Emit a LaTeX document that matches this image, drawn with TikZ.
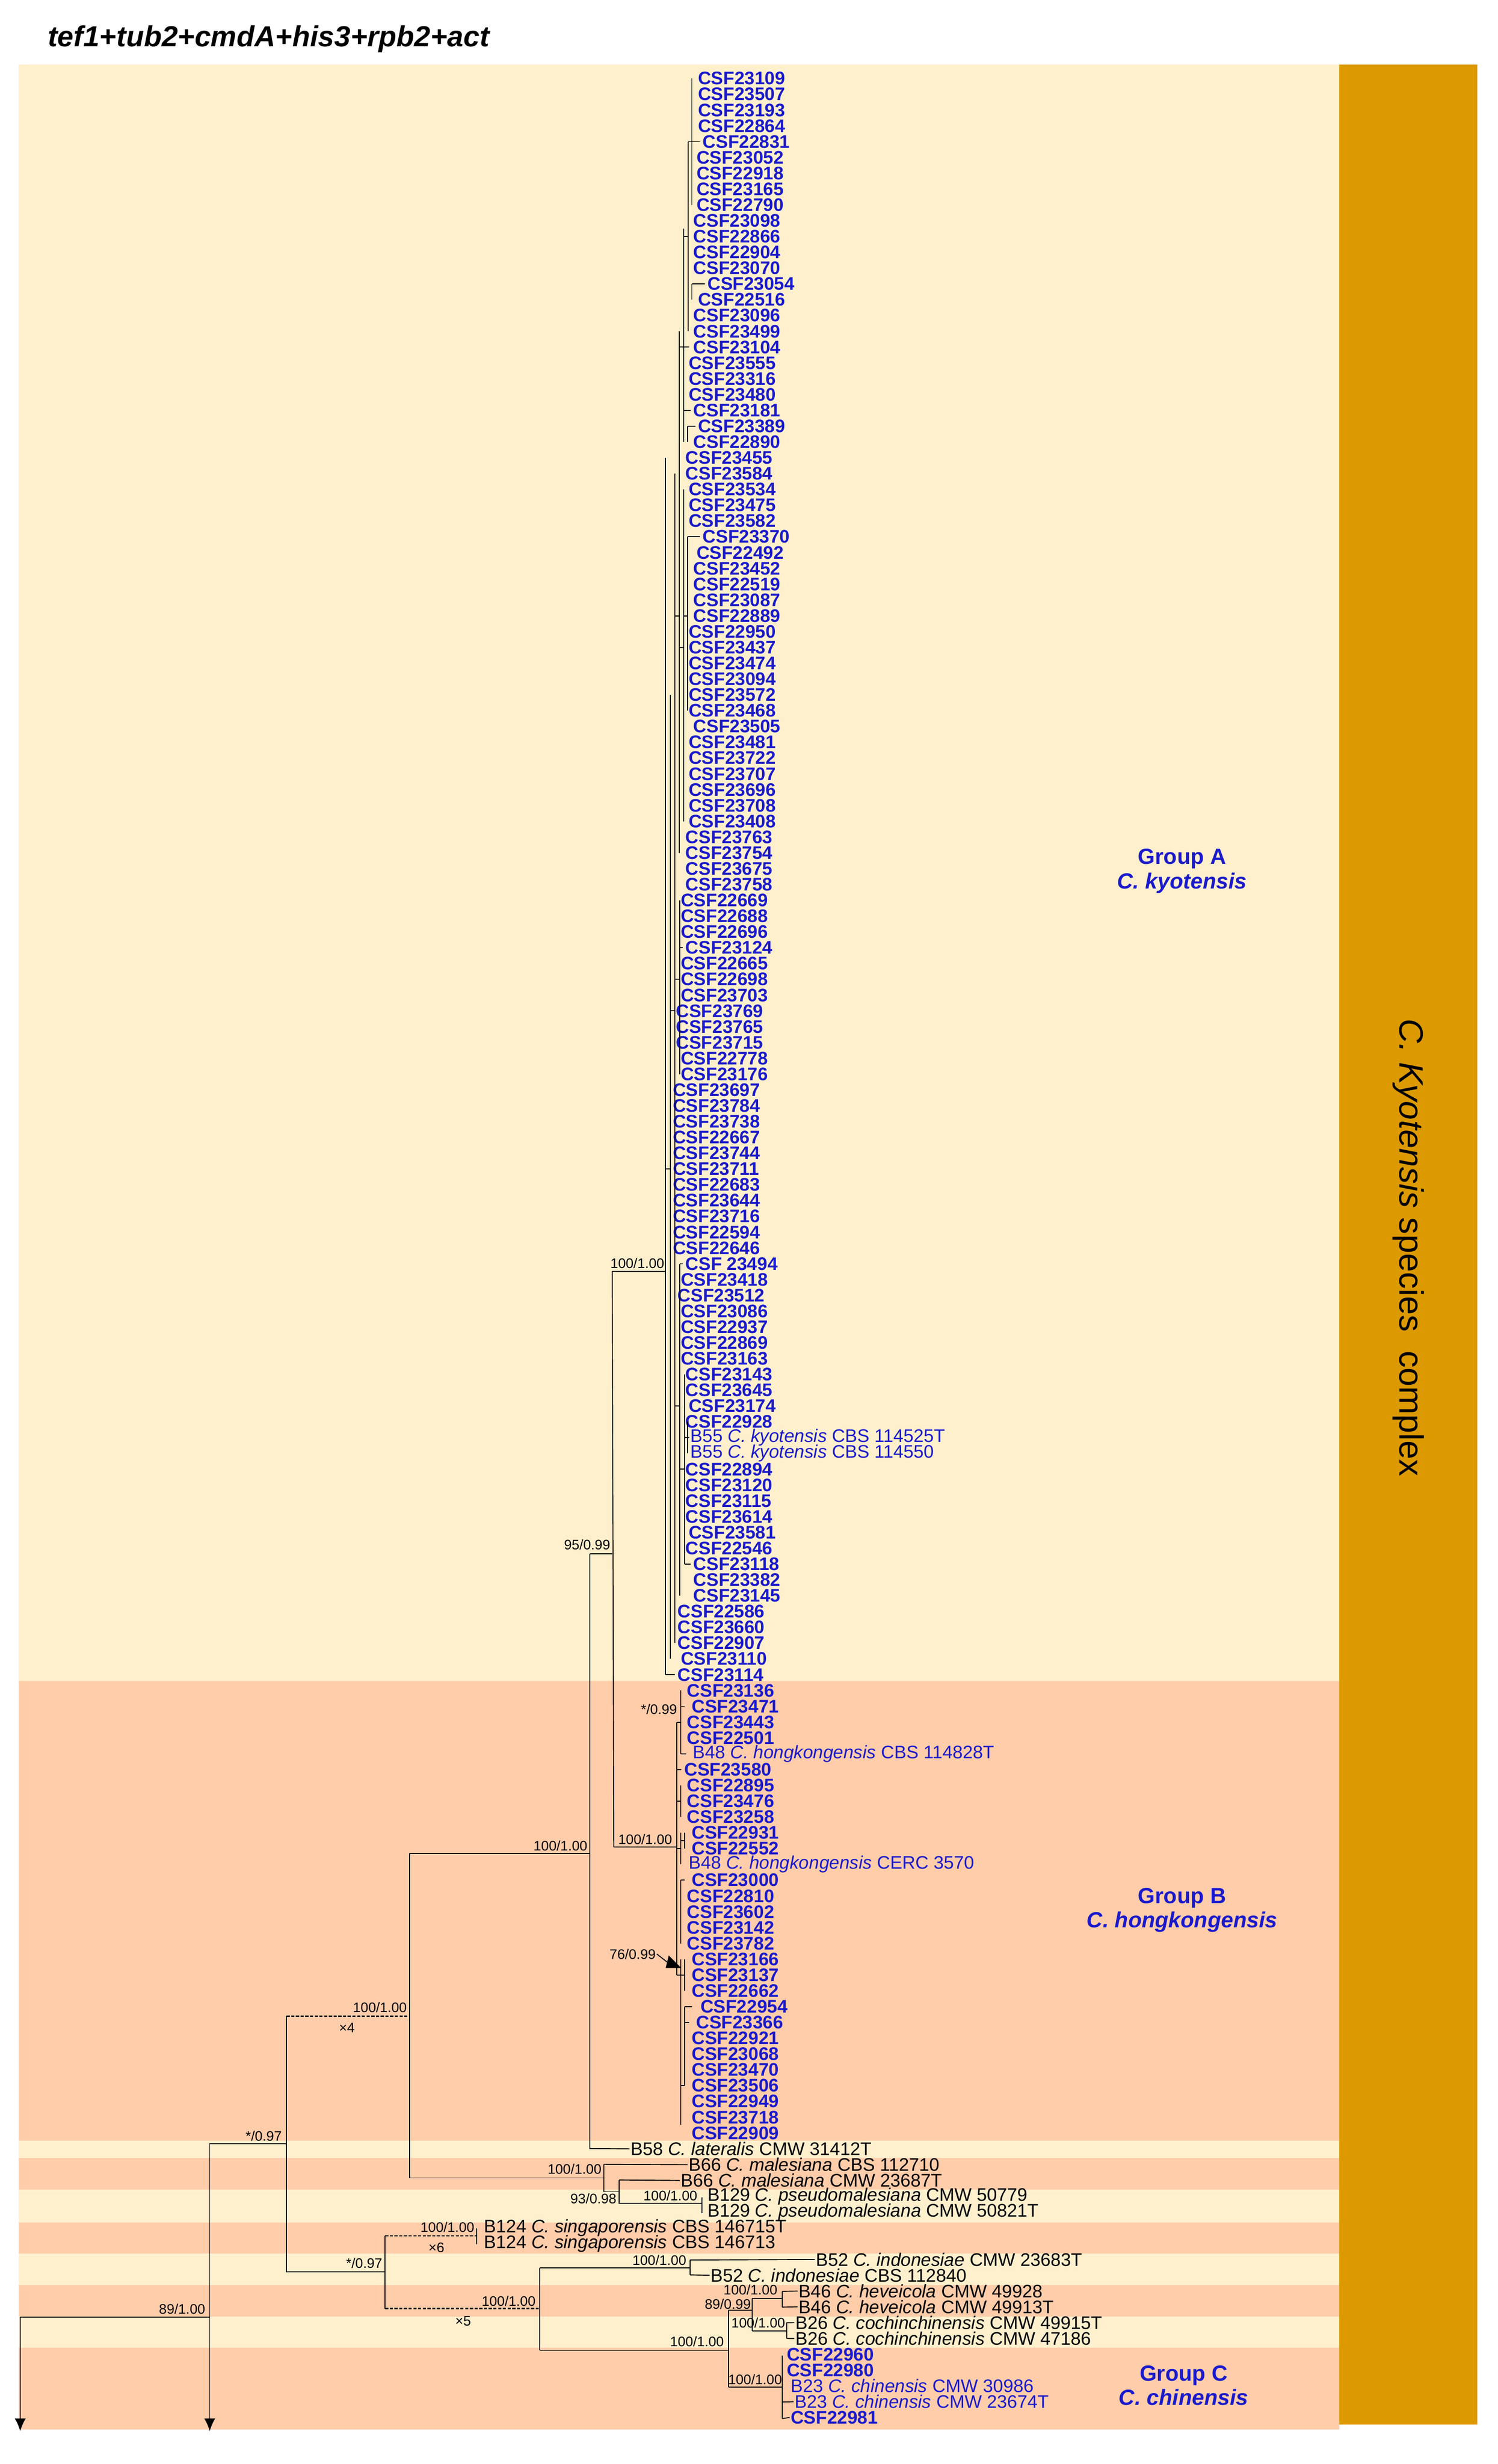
\documentclass[tikz,border=0pt]{standalone}
\usepackage{fontspec}
\setmainfont{Liberation Sans}
\usetikzlibrary{arrows.meta}
\definecolor{bgY}{HTML}{FFF0CD}
\definecolor{bgS}{HTML}{FFCDAA}
\definecolor{bar}{HTML}{DD9A00}
\definecolor{lb}{HTML}{1A1ACC}
\begin{document}
\begin{tikzpicture}[x=1pt,y=-1pt,
  declare function={ry(\n)=50+(\n-1)*10.07;},
  br/.style={line width=0.6pt,black},
  dbr/.style={line width=0.9pt,black,dash pattern=on 2pt off 1pt},
  csf/.style={anchor=west,inner sep=0.5pt,text=lb,font=\fontsize{11.6}{11}\selectfont\bfseries},
  reg/.style={anchor=west,inner sep=0.5pt,font=\fontsize{11.6}{11}\selectfont},
  sup/.style={inner sep=0.5pt,font=\fontsize{8.8}{9}\selectfont},
  grp/.style={text=lb,font=\fontsize{14}{15.5}\selectfont\bfseries,align=center}]
\useasboundingbox (0,0) rectangle (954,1570);
% backgrounds
\fill[bgY] (12,41) rectangle (853,1071);
\fill[bgS] (12,1071) rectangle (853,1364);
\fill[bgY] (12,1364) rectangle (853,1375);
\fill[bgS] (12,1375) rectangle (853,1395);
\fill[bgY] (12,1395) rectangle (853,1416);
\fill[bgS] (12,1416) rectangle (853,1436);
\fill[bgY] (12,1436) rectangle (853,1456);
\fill[bgS] (12,1456) rectangle (853,1476);
\fill[bgY] (12,1476) rectangle (853,1496);
\fill[bgS] (12,1496) rectangle (853,1548);
\fill[bar] (853,41) rectangle (941,1545);
\node[anchor=west,font=\fontsize{18.5}{20}\selectfont\bfseries\itshape] (title) at (27,25) {tef1+tub2+cmdA+his3+rpb2+act};
\node[rotate=-90,font=\fontsize{21.5}{24}\selectfont] (cx) at (897,795) {\textit{C. Kyotensis} species\ \ complex};
\node[grp] (gA) at (753,555) {Group A\\\textit{C. kyotensis}};
\node[grp] (gB) at (753,1217) {Group B\\\textit{C. hongkongensis}};
\node[grp] (gC) at (754,1520) {Group C\\\textit{C. chinensis}};
% leaves group A and B
\foreach \i/\x/\t in {1/444/CSF23109,2/444/CSF23507,3/444/CSF23193,4/444/CSF22864,5/447/CSF22831,6/443/CSF23052,7/443/CSF22918,8/443/CSF23165,9/443/CSF22790,10/441/CSF23098,
11/441/CSF22866,12/441/CSF22904,13/441/CSF23070,14/450/CSF23054,15/444/CSF22516,16/441/CSF23096,17/441/CSF23499,18/441/CSF23104,19/438/CSF23555,20/438/CSF23316,
21/438/CSF23480,22/441/CSF23181,23/444/CSF23389,24/441/CSF22890,25/436/CSF23455,26/436/CSF23584,27/438/CSF23534,28/438/CSF23475,29/438/CSF23582,30/447/CSF23370,
31/443/CSF22492,32/441/CSF23452,33/441/CSF22519,34/441/CSF23087,35/441/CSF22889,36/438/CSF22950,37/438/CSF23437,38/438/CSF23474,39/438/CSF23094,40/438/CSF23572,
41/438/CSF23468,42/441/CSF23505,43/438/CSF23481,44/438/CSF23722,45/438/CSF23707,46/438/CSF23696,47/438/CSF23708,48/438/CSF23408,49/436/CSF23763,50/436/CSF23754,
51/436/CSF23675,52/436/CSF23758,53/433/CSF22669,54/433/CSF22688,55/433/CSF22696,56/436/CSF23124,57/433/CSF22665,58/433/CSF22698,59/433/CSF23703,60/430/CSF23769,
61/430/CSF23765,62/430/CSF23715,63/433/CSF22778,64/433/CSF23176,65/428/CSF23697,66/428/CSF23784,67/428/CSF23738,68/428/CSF22667,69/428/CSF23744,70/428/CSF23711,
71/428/CSF22683,72/428/CSF23644,73/428/CSF23716,74/428/CSF22594,75/428/CSF22646,76/436/CSF 23494,77/433/CSF23418,78/431/CSF23512,79/433/CSF23086,80/433/CSF22937,
81/433/CSF22869,82/433/CSF23163,83/436/CSF23143,84/436/CSF23645,85/438/CSF23174,86/436/CSF22928,89/436/CSF22894,90/436/CSF23120,
91/436/CSF23115,92/436/CSF23614,93/438/CSF23581,94/436/CSF22546,95/441/CSF23118,96/441/CSF23382,97/441/CSF23145,98/431/CSF22586,99/431/CSF23660,100/431/CSF22907,
101/433/CSF23110,102/431/CSF23114,103/437/CSF23136,104/440/CSF23471,105/437/CSF23443,106/437/CSF22501,108/435.3/CSF23580,109/437/CSF22895,110/437/CSF23476,
111/437/CSF23258,112/440/CSF22931,113/440/CSF22552,115/440/CSF23000,116/437/CSF22810,117/437/CSF23602,118/437/CSF23142,119/437/CSF23782,120/440/CSF23166,
121/440/CSF23137,122/440/CSF22662,123/445.5/CSF22954,124/442.8/CSF23366,125/440/CSF22921,126/440/CSF23068,127/440/CSF23470,128/440/CSF23506,129/440/CSF22949,130/440/CSF23718,
131/440/CSF22909,145/500.5/CSF22960,146/500.5/CSF22980,149/503/CSF22981}
  {\node[csf] (L\i) at (\x,{ry(\i)}) {\t};}
\node[reg,text=lb] (L87) at (439,{ry(87)}) {B55 \textit{C. kyotensis} CBS 114525T};
\node[reg,text=lb] (L88) at (439,{ry(88)}) {B55 \textit{C. kyotensis} CBS 114550};
\node[reg,text=lb] (L107) at (440.6,{ry(107)}) {B48 \textit{C. hongkongensis} CBS 114828T};
\node[reg,text=lb] (L114) at (438,{ry(114)}) {B48 \textit{C. hongkongensis} CERC 3570};
\node[reg] (L132) at (401,{ry(132)}) {B58 \textit{C. lateralis} CMW 31412T};
\node[reg] (L133) at (438,{ry(133)}) {B66 \textit{C. malesiana} CBS 112710};
\node[reg] (L134) at (433,{ry(134)}) {B66 \textit{C. malesiana} CMW 23687T};
\node[reg] (L135) at (450,{ry(135)}) {B129 \textit{C. pseudomalesiana} CMW 50779};
\node[reg] (L136) at (450,{ry(136)}) {B129 \textit{C. pseudomalesiana} CMW 50821T};
\node[reg] (L137) at (307.5,{ry(137)}) {B124 \textit{C. singaporensis} CBS 146715T};
\node[reg] (L138) at (307.5,{ry(138)}) {B124 \textit{C. singaporensis} CBS 146713};
\node[reg] (L139) at (519,{ry(139)}) {B52 \textit{C. indonesiae} CMW 23683T};
\node[reg] (L140) at (452,{ry(140)}) {B52 \textit{C. indonesiae} CBS 112840};
\node[reg] (L141) at (508,{ry(141)}) {B46 \textit{C. heveicola} CMW 49928};
\node[reg] (L142) at (508,{ry(142)}) {B46 \textit{C. heveicola} CMW 49913T};
\node[reg] (L143) at (506,{ry(143)}) {B26 \textit{C. cochinchinensis} CMW 49915T};
\node[reg] (L144) at (506,{ry(144)}) {B26 \textit{C. cochinchinensis} CMW 47186};
\node[reg,text=lb] (L147) at (503,{ry(147)}) {B23 \textit{C. chinensis} CMW 30986};
\node[reg,text=lb] (L148) at (505.5,{ry(148)}) {B23 \textit{C. chinensis} CMW 23674T};
% group A verticals (x,from,to)
\foreach \x/\a/\b in {440.7/1/9,438.4/5/17,440.7/14/15,435.5/10.5/24,438/23/24,432.8/17/50,435.5/27/48,438/30/41,430/26/100,433/53/64,427/40/101,424/25/102,433/76/97,436/83/95,438/86/88}
  {\draw[br] (\x,{ry(\a)}) -- (\x,{ry(\b)});}
% horizontals (xfrom,row,xto)
\foreach \x/\r/\y in {440.7/5/446,440.7/14/449,435.5/18/439,435.5/22/440,438/23/443,438/30/446,433/56/435,433/76/435,438/87/439,424/102/430,436/95/440,
438.4/5/440.7,435.5/11/438.4,432.8/18/435.5,430/35/432.8,432.8/37/435.5,435.5/35/438,427/60/430,430/58/433,424/70/427,430/85/433,433/89/436,436/87/438}
  {\draw[br] (\x,{ry(\r)}) -- (\y,{ry(\r)});}
% group B
\foreach \x/\a/\b in {431.1/105/121,433.5/103/107,433.5/109/111,433.5/112/114,436/112/113,433.5/115/119,433.5/120/130.5,436/120/122,436/123/128}
  {\draw[br] (\x,{ry(\a)}) -- (\x,{ry(\b)});}
\foreach \x/\r/\y in {431.1/105/433.5,433.5/104/436,433.5/107/437,431.1/108/434,431.1/110/433.5,431.1/113/433.5,433.5/112.5/436,433.5/115/436,431.1/121/433.5,433.5/121/436,433.5/128/436,436/123/441,436/124/439}
  {\draw[br] (\x,{ry(\r)}) -- (\y,{ry(\r)});}
\coordinate (nA) at (390,810);
\coordinate (nB) at (391,1177);
\draw[br] (nA) -- (424,810);
\draw[br] (nB) -- (431.1,1177);
\draw[br] (nA) -- (nB);
\node[sup,anchor=south] (sA) at (406,809) {100/1.00};
\node[sup,anchor=south] (sB) at (411,1176) {100/1.00};
\node[sup,anchor=east] (s099) at (432,1089) {*/0.99};
\node[sup] (s76) at (403,1245) {76/0.99};
\draw[br] (s76.east) -- (426,1251);
\fill (426,1246) -- (434,1254) -- (424,1254) -- cycle;
% outgroup structure
\coordinate (n95) at (375.7,990);
\draw[br] (n95) -- (390,990);
\node[sup,anchor=south] (s95) at (374,988) {95/0.99};
\draw[br] (n95) -- (375.7,1369) -- (L132.west);
\coordinate (nAB) at (260.8,1181);
\draw[br] (nAB) -- (375.7,1181);
\node[sup,anchor=south] (sAB) at (357,1180) {100/1.00};
\draw[br] (nAB) -- (260.8,1387.7) -- (384.7,1387.7);
\node[sup,anchor=south] (sM) at (366,1386) {100/1.00};
\draw[br] (384.7,1379) -- (384.7,1396.5) -- (394.4,1396.5);
\draw[br] (384.7,1379) -- (L133.west);
\draw[br] (394.4,1389) -- (394.4,1404) -- (447,1404);
\draw[br] (394.4,1389) -- (L134.west);
\node[sup] (s93) at (378,1401) {93/0.98};
\node[sup,anchor=south] (sP) at (427,1403) {100/1.00};
\draw[br] (447,1400) -- (447,1410);
\draw[dbr] (182.5,1284.6) -- (nAB |- 0,1284.6);
\node[sup,anchor=south] (s4) at (242,1283) {100/1.00};
\node[sup] (x4) at (221,1292) {×4};
\draw[br] (182.5,1284.6) -- (182.5,1447.5) -- (245.3,1447.5);
\node[sup,anchor=south] (s097a) at (232,1446) {*/0.97};
\draw[br] (133.6,1366) -- (182.5,1366);
\node[sup,anchor=south] (s097b) at (168,1365) {*/0.97};
\coordinate (a2) at (133.6,1549);
\coordinate (a1) at (12.9,1549);
\draw[br,-{Latex[length=8pt,width=7pt]}] (133.6,1366) -- (a2);
\draw[br] (12.9,1476.4) -- (133.6,1476.4);
\draw[br,-{Latex[length=8pt,width=7pt]}] (12.9,1476.4) -- (a1);
\node[sup,anchor=south] (s89) at (116,1475) {89/1.00};
\draw[br] (245.3,1424.6) -- (245.3,1471);
\draw[dbr] (245.3,1424.6) -- (303.6,1424.6);
\draw[br] (303.6,1420) -- (303.6,1430);
\node[sup,anchor=south] (s6) at (285,1423) {100/1.00};
\node[sup] (x6) at (278,1432) {×6};
\draw[dbr] (245.3,1471) -- (343.8,1471);
\node[sup,anchor=south] (s5) at (324,1470) {100/1.00};
\node[sup] (x5) at (295,1479) {×5};
\draw[br] (343.8,1445) -- (343.8,1497.6);
\draw[br] (343.8,1445) -- (439.5,1445);
\node[sup,anchor=south] (sI) at (420,1444) {100/1.00};
\draw[br] (439.5,1440) -- (439.5,1449.5);
\draw[br] (439.5,1440) -- (L139.west);
\draw[br] (439.5,1449.5) -- (L140.west);
\draw[br] (343.8,1497.6) -- (464,1497.6);
\node[sup,anchor=south] (sR) at (444,1496) {100/1.00};
\draw[br] (464,1472) -- (464,1521);
\draw[br] (464,1472) -- (479.2,1472);
\node[sup,anchor=south east] (s89b) at (479,1472) {89/0.99};
\draw[br] (479.2,1464.5) -- (479.2,1485.3);
\draw[br] (479.2,1464.5) -- (498.3,1464.5);
\node[sup,anchor=south] (sH) at (478,1463) {100/1.00};
\draw[br] (498.3,1460) -- (498.3,1470);
\draw[br] (498.3,1460) -- (L141.west);
\draw[br] (498.3,1470) -- (L142.west);
\draw[br] (479.2,1485.3) -- (501,1485.3);
\node[sup,anchor=south] (sCo) at (483,1484) {100/1.00};
\draw[br] (501,1480) -- (501,1490);
\draw[br] (501,1480) -- (L143.west);
\draw[br] (501,1490) -- (L144.west);
\draw[br] (464,1521) -- (498.3,1521);
\node[sup,anchor=south] (sC) at (481,1520) {100/1.00};
\draw[br] (498.3,1501) -- (498.3,1541);
\draw[br] (498.3,1530.5) -- (L148.west);
\draw[br] (498.3,1541) -- (L149.west);
\end{tikzpicture}
\end{document}
